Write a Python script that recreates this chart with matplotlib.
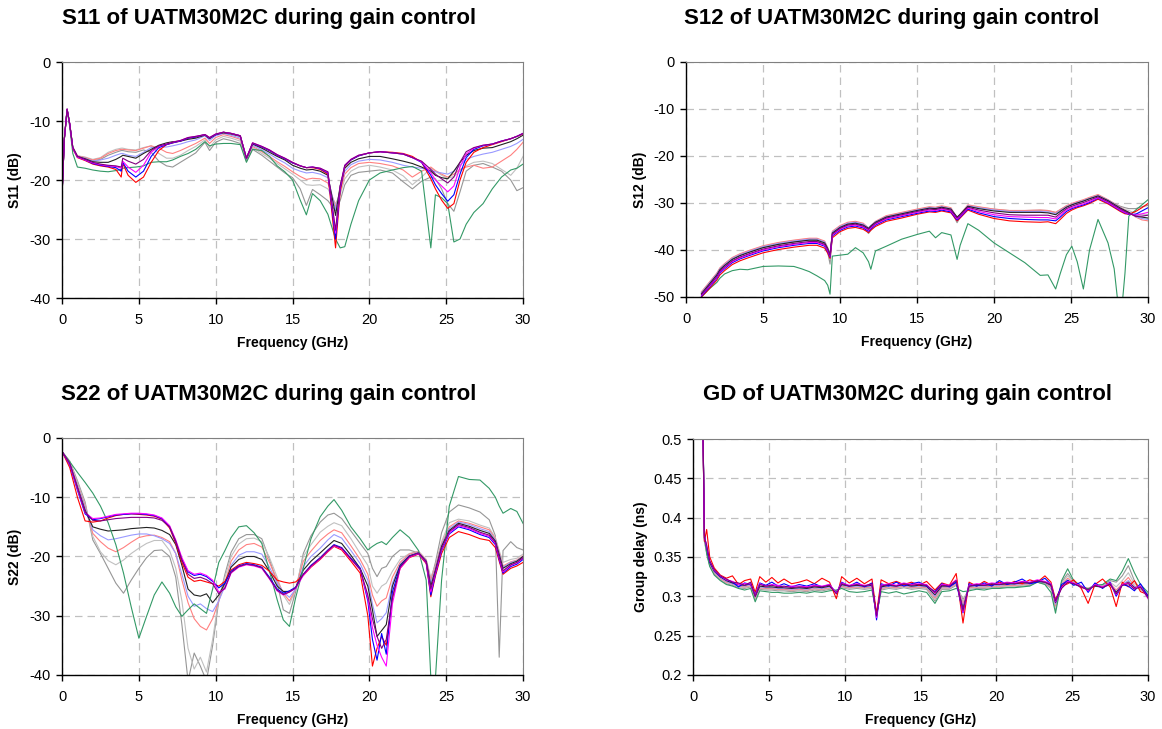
import matplotlib
matplotlib.use('Agg')
import matplotlib.pyplot as plt
from matplotlib.ticker import FuncFormatter

plt.rcParams['font.family'] = ['Liberation Sans', 'DejaVu Sans']
plt.rcParams['axes.unicode_minus'] = False

# ---------------- S11 ----------------
s11_freq = [0, 0.15, 0.33, 0.5, 0.7, 1.0, 1.5, 2.0, 2.5, 3.0,
            3.5, 3.85, 3.95, 4.3, 4.8, 5.3, 5.8, 6.3, 6.8, 7.2,
            7.7, 8.2, 8.7, 9.3, 9.6, 10.0, 10.5, 11.0, 11.6, 12.0,
            12.4, 13.0, 13.5, 14.0, 14.5, 15.0, 15.5, 15.9, 16.3, 16.8,
            17.3, 17.8, 18.1, 18.4, 18.8, 19.3, 20.0, 20.7, 21.5, 22.2,
            22.8, 23.4, 24.0, 24.3, 24.7, 25.1, 25.5, 25.9, 26.3, 26.8,
            27.4, 28.0, 28.6, 29.2, 29.6, 30.0]
s11_red = [-22.5, -13.0, -8.0, -10.5, -14.7, -16.2, -16.7, -17.3, -17.6, -17.8,
           -18.2, -19.5, -17.2, -19.2, -20.4, -19.5, -17.0, -15.0, -14.0, -13.7,
           -13.4, -12.9, -12.7, -12.3, -12.9, -12.3, -11.9, -12.1, -12.5, -16.3,
           -13.8, -14.4, -15.0, -15.8, -16.4, -17.1, -17.6, -17.9, -17.9, -18.2,
           -19.0, -31.5, -22.0, -17.7, -16.6, -15.9, -15.4, -15.2, -15.3, -15.5,
           -16.0, -17.0, -19.8, -21.5, -23.4, -24.8, -24.0, -20.0, -17.0, -15.3,
           -14.5, -14.0, -13.5, -13.0, -12.6, -12.2]
s11_blue = [-22.5, -13.0, -8.0, -10.5, -14.6, -16.1, -16.6, -17.2, -17.5, -17.7,
            -17.9, -18.5, -17.0, -18.5, -19.5, -18.5, -16.0, -14.5, -14.0, -13.7,
            -13.4, -12.9, -12.7, -12.3, -12.9, -12.3, -11.9, -12.1, -12.5, -16.3,
            -13.8, -14.4, -15.0, -15.8, -16.4, -17.1, -17.6, -17.9, -17.8, -18.1,
            -18.8, -30.0, -21.5, -17.6, -16.6, -15.9, -15.4, -15.2, -15.4, -15.6,
            -16.2, -17.0, -19.2, -20.8, -22.3, -23.6, -22.5, -19.0, -16.2, -14.8,
            -14.2, -13.9, -13.4, -13.0, -12.6, -12.1]
s11_magenta = [-22.5, -13.0, -8.0, -10.5, -14.6, -16.1, -16.6, -17.1, -17.4, -17.6,
               -17.7, -18.0, -16.8, -17.8, -18.7, -17.5, -15.3, -14.3, -13.9, -13.6,
               -13.3, -12.8, -12.6, -12.3, -12.8, -12.2, -11.9, -12.1, -12.5, -16.3,
               -13.7, -14.3, -14.9, -15.7, -16.3, -17.0, -17.6, -17.9, -17.8, -18.0,
               -18.7, -29.0, -21.2, -17.5, -16.5, -15.8, -15.4, -15.2, -15.4, -15.6,
               -16.2, -16.9, -18.8, -20.0, -21.0, -22.0, -21.0, -17.8, -15.6, -14.6,
               -14.1, -13.9, -13.4, -13.0, -12.6, -12.1]
s11_purple = [-22.5, -13.0, -8.0, -10.5, -14.5, -16.0, -16.5, -17.0, -17.3, -17.5,
              -17.6, -17.8, -16.3, -16.8, -17.3, -16.5, -15.0, -14.2, -13.9, -13.6,
              -13.3, -12.8, -12.6, -12.3, -12.8, -12.2, -11.9, -12.1, -12.5, -16.3,
              -13.7, -14.3, -14.9, -15.7, -16.3, -17.0, -17.6, -17.9, -17.8, -18.0,
              -18.6, -28.5, -21.0, -17.5, -16.5, -15.8, -15.4, -15.2, -15.4, -15.6,
              -16.2, -16.8, -18.2, -19.0, -19.8, -20.5, -19.5, -17.0, -15.2, -14.5,
              -14.1, -13.9, -13.4, -13.0, -12.6, -12.1]
s11_black = [-22.5, -13.0, -8.0, -10.5, -14.5, -16.0, -16.4, -16.9, -17.0, -17.0,
             -16.5, -16.0, -15.8, -16.0, -16.3, -15.5, -14.8, -14.1, -13.7, -13.5,
             -13.4, -13.1, -12.9, -12.4, -13.0, -12.3, -12.0, -12.2, -12.6, -16.4,
             -13.9, -14.6, -15.3, -16.0, -16.6, -17.5, -18.0, -18.3, -18.2, -18.5,
             -19.2, -26.0, -21.0, -18.0, -17.0, -16.4, -16.0, -16.0, -16.4, -16.8,
             -17.2, -17.8, -18.5, -19.2, -19.6, -19.8, -18.5, -17.0, -15.8, -15.0,
             -14.6, -14.5, -14.0, -13.5, -13.0, -12.4]
s11_lightblue = [-22.5, -13.0, -8.0, -10.5, -14.5, -16.0, -16.3, -16.8, -16.6, -16.3,
                 -15.8, -15.5, -15.5, -15.8, -16.0, -15.3, -14.5, -14.4, -14.4, -14.2,
                 -13.9, -13.5, -13.2, -12.5, -13.3, -12.5, -12.1, -12.4, -12.9, -16.5,
                 -14.1, -14.9, -15.6, -16.4, -17.1, -18.0, -18.5, -18.8, -18.7, -19.0,
                 -19.6, -25.0, -21.5, -18.5, -17.4, -16.8, -16.5, -16.6, -17.0, -17.5,
                 -17.8, -18.0, -18.4, -18.6, -18.8, -19.0, -18.5, -17.5, -16.5, -16.0,
                 -15.6, -15.3, -14.8, -14.3, -13.8, -13.1]
s11_salmon = [-22.5, -13.0, -8.0, -10.5, -14.4, -15.9, -16.2, -16.6, -16.3, -15.5,
              -15.0, -14.8, -14.8, -14.9, -15.0, -14.6, -14.2, -14.6, -15.3, -15.5,
              -15.0, -14.4, -13.8, -12.9, -13.8, -12.8, -12.3, -12.6, -13.1, -16.6,
              -14.3, -15.2, -16.0, -16.9, -17.7, -18.6, -19.4, -19.9, -19.7, -19.8,
              -20.5, -24.5, -22.0, -19.0, -17.9, -17.2, -17.0, -17.2, -17.6, -18.3,
              -19.5, -18.5, -17.8, -18.4, -19.0, -19.5, -19.0, -18.2, -17.8, -17.5,
              -18.0, -17.8, -16.8, -15.8, -14.8, -13.6]
s11_lightgray = [-22.5, -13.0, -8.0, -10.6, -14.4, -15.9, -16.1, -16.5, -16.2, -15.3,
                 -14.8, -14.6, -14.6, -14.8, -14.9, -14.5, -14.2, -15.5, -16.3, -16.3,
                 -15.8, -15.0, -14.3, -13.2, -14.5, -13.2, -12.6, -12.9, -13.4, -16.6,
                 -14.5, -15.5, -16.3, -17.2, -18.1, -19.0, -20.0, -20.8, -20.9, -20.8,
                 -21.5, -24.0, -22.5, -19.8, -18.5, -17.8, -17.5, -17.8, -18.3, -19.3,
                 -20.8, -19.5, -18.0, -18.5, -19.2, -19.7, -19.4, -18.5, -17.6, -17.0,
                 -16.8, -17.2, -18.2, -19.2, -18.0, -16.0]
s11_gray = [-22.5, -13.0, -8.1, -10.7, -14.6, -16.1, -16.3, -16.7, -16.5, -15.8,
            -15.3, -15.0, -15.0, -15.2, -15.3, -14.9, -15.3, -16.8, -17.6, -17.8,
            -17.0, -16.2, -15.4, -13.6, -15.0, -13.6, -13.0, -13.3, -13.8, -16.8,
            -14.8, -15.8, -16.8, -17.8, -18.8, -19.6, -21.5, -24.3, -21.6, -22.5,
            -23.5, -25.2, -23.5, -20.8, -19.2, -18.7, -18.5, -18.3, -18.8, -20.3,
            -21.5, -20.2, -19.5, -19.8, -21.5, -24.0, -25.3, -22.0, -18.5, -17.5,
            -17.2, -17.8, -18.5, -20.0, -21.8, -21.3]
s11_green = [-22.5, -13.0, -8.2, -11.0, -15.5, -17.8, -18.0, -18.3, -18.5, -18.6,
             -18.4, -18.2, -18.0, -17.9, -17.8, -17.6, -17.0, -16.9, -16.9, -16.6,
             -16.0, -15.5, -14.8, -13.5, -14.2, -13.9, -13.8, -13.8, -14.0, -17.0,
             -14.8, -15.0, -16.0, -17.6, -18.6, -20.0, -23.4, -25.9, -22.3, -23.5,
             -25.8, -30.0, -31.5, -31.3, -27.5, -23.5, -20.0, -18.8, -18.3, -17.9,
             -17.7, -18.5, -31.5, -22.5, -23.0, -24.0, -30.5, -30.0, -27.5, -25.5,
             -24.0, -21.5, -19.5, -18.3, -18.0, -17.3]

# ---------------- S12 ----------------
s12_freq = [1.0, 1.5, 2.0, 2.2, 2.5, 3.0, 3.5, 4.0, 5.0, 6.0,
            7.0, 7.5, 8.0, 8.5, 9.0, 9.2, 9.35, 9.5, 10.0, 10.5,
            11.0, 11.5, 11.85, 12.0, 12.3, 13.0, 14.0, 15.0, 15.8, 16.2,
            16.6, 17.2, 17.6, 17.8, 18.3, 19.0, 20.0, 21.0, 22.0, 23.0,
            23.5, 24.0, 24.3, 24.7, 25.05, 25.4, 25.8, 26.2, 26.75, 27.4,
            27.8, 28.2, 28.5, 28.75, 29.2, 29.6, 30.0]
s12_red = [-50.0, -48.3, -46.4, -45.3, -44.4, -43.1, -42.3, -41.7, -40.6, -39.9,
           -39.4, -39.2, -39.0, -39.0, -39.6, -40.7, -41.8, -37.4, -36.1, -35.4,
           -35.2, -35.6, -36.3, -35.8, -35.0, -33.9, -33.2, -32.4, -31.9, -32.0,
           -31.7, -32.1, -33.8, -33.2, -31.5, -32.4, -33.3, -33.8, -34.0, -34.1,
           -34.0, -34.4, -33.5, -32.2, -31.5, -31.0, -30.6, -30.1, -29.2, -30.2,
           -31.0, -31.8, -32.3, -32.4, -31.8, -31.0, -30.1]
s12_blue = [-49.8, -48.0, -46.0, -44.9, -44.0, -42.7, -41.9, -41.3, -40.2, -39.5,
            -39.0, -38.8, -38.6, -38.6, -39.2, -40.3, -41.5, -37.0, -35.8, -35.1,
            -34.9, -35.3, -36.0, -35.5, -34.7, -33.6, -32.9, -32.2, -31.7, -31.8,
            -31.5, -31.9, -33.6, -33.0, -31.3, -32.1, -32.9, -33.3, -33.5, -33.6,
            -33.6, -33.8, -33.0, -31.8, -31.2, -30.8, -30.4, -29.9, -29.0, -30.0,
            -30.8, -31.6, -32.1, -32.4, -32.4, -31.7, -31.0]
s12_magenta = [-49.6, -47.8, -45.8, -44.7, -43.8, -42.5, -41.7, -41.1, -40.0, -39.3,
               -38.8, -38.6, -38.4, -38.4, -39.0, -40.1, -41.3, -36.8, -35.6, -34.9,
               -34.7, -35.1, -35.8, -35.3, -34.5, -33.4, -32.7, -32.0, -31.5, -31.6,
               -31.3, -31.7, -33.4, -32.8, -31.1, -31.8, -32.5, -32.9, -33.0, -33.1,
               -33.1, -33.4, -32.6, -31.5, -31.0, -30.6, -30.2, -29.7, -28.9, -29.9,
               -30.7, -31.5, -32.0, -32.3, -32.6, -32.3, -32.0]
s12_purple = [-49.5, -47.6, -45.6, -44.5, -43.6, -42.3, -41.5, -40.9, -39.8, -39.1,
              -38.6, -38.4, -38.2, -38.2, -38.8, -39.9, -41.2, -36.6, -35.4, -34.7,
              -34.5, -34.9, -35.6, -35.1, -34.3, -33.2, -32.5, -31.8, -31.3, -31.4,
              -31.1, -31.5, -33.2, -32.6, -30.9, -31.5, -32.1, -32.5, -32.6, -32.6,
              -32.6, -33.0, -32.2, -31.2, -30.7, -30.3, -29.9, -29.4, -28.7, -29.7,
              -30.5, -31.3, -31.8, -32.2, -32.8, -32.8, -32.6]
s12_black = [-49.3, -47.3, -45.3, -44.2, -43.3, -42.0, -41.2, -40.6, -39.5, -38.8,
             -38.3, -38.1, -37.9, -37.9, -38.5, -39.7, -41.0, -36.4, -35.2, -34.5,
             -34.3, -34.7, -35.4, -34.9, -34.1, -33.0, -32.3, -31.6, -31.1, -31.2,
             -30.9, -31.3, -33.0, -32.4, -30.7, -31.2, -31.7, -32.0, -32.0, -32.0,
             -32.1, -32.5, -31.8, -30.9, -30.4, -30.0, -29.6, -29.1, -28.5, -29.5,
             -30.3, -31.1, -31.6, -32.0, -32.8, -33.0, -33.2]
s12_lightblue = [-49.1, -47.1, -45.1, -44.0, -43.1, -41.8, -41.0, -40.4, -39.3, -38.6,
                 -38.1, -37.9, -37.7, -37.7, -38.3, -39.6, -41.2, -36.2, -35.0, -34.3,
                 -34.1, -34.5, -35.3, -34.8, -34.0, -32.9, -32.2, -31.5, -31.0, -31.1,
                 -30.8, -31.2, -33.1, -32.4, -30.6, -31.0, -31.5, -31.8, -31.8, -31.8,
                 -31.9, -32.3, -31.6, -30.8, -30.3, -29.9, -29.5, -29.0, -28.4, -29.4,
                 -30.2, -31.0, -31.6, -32.0, -32.9, -33.3, -33.5]
s12_salmon = [-48.9, -46.9, -44.9, -43.8, -42.9, -41.6, -40.8, -40.2, -39.1, -38.4,
              -37.9, -37.7, -37.5, -37.5, -38.1, -39.5, -41.5, -36.0, -34.8, -34.1,
              -33.9, -34.3, -35.3, -34.8, -33.9, -32.7, -32.0, -31.3, -30.8, -30.9,
              -30.6, -31.0, -33.2, -32.4, -30.4, -30.8, -31.3, -31.6, -31.6, -31.5,
              -31.6, -32.0, -31.4, -30.6, -30.1, -29.7, -29.3, -28.8, -28.2, -29.3,
              -30.1, -30.9, -31.5, -32.0, -33.0, -33.6, -33.8]
s12_lightgray = [-49.0, -47.0, -45.0, -43.9, -43.0, -41.7, -40.9, -40.3, -39.2, -38.5,
                 -38.0, -37.8, -37.6, -37.6, -38.3, -39.8, -42.0, -36.3, -35.0, -34.3,
                 -34.1, -34.6, -35.8, -35.2, -34.1, -32.8, -32.1, -31.4, -30.9, -31.0,
                 -30.7, -31.2, -33.6, -32.6, -30.5, -30.9, -31.3, -31.6, -31.6, -31.5,
                 -31.6, -32.0, -31.4, -30.6, -30.2, -29.8, -29.4, -28.9, -28.3, -29.4,
                 -30.2, -31.0, -31.4, -31.6, -32.2, -32.5, -32.5]
s12_gray = [-49.2, -47.2, -45.2, -44.1, -43.2, -41.9, -41.1, -40.5, -39.5, -38.8,
            -38.3, -38.1, -37.9, -38.0, -38.8, -40.5, -43.0, -36.8, -35.3, -34.6,
            -34.4, -35.0, -36.5, -35.8, -34.4, -33.1, -32.3, -31.6, -31.1, -31.3,
            -31.0, -31.6, -34.2, -33.0, -30.8, -31.0, -31.4, -31.7, -31.7, -31.6,
            -31.7, -32.1, -31.5, -30.7, -30.3, -29.9, -29.5, -29.0, -28.4, -29.4,
            -30.1, -30.7, -31.0, -31.2, -31.2, -30.8, -30.5]
s12_green = [-50.0, -48.3, -46.9, -46.0, -45.1, -44.4, -44.1, -44.2, -43.5, -43.4,
             -43.5, -44.0, -44.6, -45.5, -46.5, -47.5, -49.4, -41.3, -41.1, -40.9,
             -39.5, -40.6, -42.5, -44.1, -40.2, -39.2, -37.7, -36.7, -36.0, -37.4,
             -36.3, -36.8, -42.0, -39.0, -34.4, -35.8, -38.5, -40.6, -42.7, -45.4,
             -45.3, -48.3, -45.0, -41.0, -39.2, -42.5, -48.3, -40.0, -33.5, -38.5,
             -44.0, -56.0, -45.0, -32.8, -31.5, -30.4, -29.3]

# ---------------- S22 ----------------
s22_freq = [0, 0.5, 1.0, 1.5, 2.0, 2.5, 3.0, 3.5, 4.0, 4.5,
            5.0, 5.5, 6.0, 6.5, 7.0, 7.4, 7.8, 8.2, 8.6, 9.0,
            9.4, 9.8, 10.2, 10.6, 11.0, 11.5, 12.0, 12.5, 13.0, 13.5,
            14.0, 14.4, 14.8, 15.2, 15.7, 16.2, 16.8, 17.3, 17.7, 18.2,
            18.8, 19.4, 19.9, 20.2, 20.5, 20.8, 21.1, 21.5, 22.0, 22.6,
            23.2, 23.7, 24.0, 24.3, 24.7, 25.2, 25.8, 26.5, 27.2, 27.8,
            28.2, 28.45, 28.7, 29.2, 29.6, 30.0]
s22_red = [-2.3, -5.0, -10.0, -14.0, -14.2, -14.0, -13.5, -13.1, -12.9, -12.8,
           -12.9, -13.0, -13.2, -13.7, -15.2, -17.8, -21.0, -23.5, -24.2, -24.0,
           -24.3, -24.6, -25.0, -24.2, -22.3, -21.4, -21.0, -21.2, -21.5, -22.5,
           -24.0, -24.3, -24.5, -24.3, -23.2, -21.8, -20.5, -19.2, -18.3, -18.9,
           -20.8, -22.8, -30.0, -38.5, -35.5, -33.5, -35.0, -27.0, -22.0, -20.2,
           -19.6, -21.2, -26.8, -23.3, -19.5, -16.8, -15.8, -16.3, -17.0, -17.3,
           -18.5, -20.8, -23.0, -22.0, -21.6, -21.0]
s22_blue = [-2.3, -4.5, -8.8, -12.8, -13.8, -13.6, -13.3, -13.0, -12.9, -12.8,
            -12.8, -12.9, -13.1, -13.6, -15.0, -17.5, -20.5, -22.6, -23.2, -23.0,
            -23.4, -24.2, -25.3, -24.5, -22.5, -21.6, -21.2, -21.4, -21.8, -23.5,
            -25.5, -26.2, -25.8, -25.2, -23.0, -21.5, -20.2, -18.9, -18.0, -18.5,
            -20.3, -22.0, -27.5, -34.0, -37.5, -33.0, -36.5, -26.0, -21.7, -20.0,
            -19.5, -21.0, -26.5, -23.0, -19.0, -16.2, -15.0, -15.5, -16.3, -16.8,
            -18.0, -20.5, -22.8, -21.7, -21.3, -20.5]
s22_magenta = [-2.3, -4.4, -8.6, -12.6, -13.6, -13.5, -13.2, -12.9, -12.8, -12.7,
               -12.7, -12.8, -13.0, -13.5, -14.8, -17.2, -20.2, -22.4, -23.0, -22.8,
               -23.2, -24.0, -26.0, -25.5, -22.8, -21.8, -21.4, -21.6, -22.0, -23.8,
               -25.8, -26.5, -26.0, -25.4, -23.2, -21.7, -20.4, -19.1, -18.2, -18.7,
               -20.5, -22.2, -27.0, -32.0, -35.0, -37.0, -38.5, -28.0, -22.0, -20.1,
               -19.5, -21.0, -26.0, -22.8, -18.8, -16.0, -14.8, -15.3, -16.1, -16.6,
               -17.8, -20.3, -22.6, -21.5, -21.1, -20.3]
s22_purple = [-2.3, -4.3, -8.4, -12.5, -13.9, -14.0, -13.8, -13.6, -13.5, -13.4,
              -13.4, -13.4, -13.5, -13.9, -15.0, -17.4, -20.6, -23.0, -23.7, -23.5,
              -23.9, -24.6, -26.3, -25.3, -22.7, -21.7, -21.3, -21.5, -21.9, -23.7,
              -25.7, -26.4, -26.0, -25.3, -23.0, -21.6, -20.3, -19.0, -18.1, -18.6,
              -20.4, -22.2, -26.5, -30.5, -33.5, -35.5, -34.0, -27.0, -21.8, -20.0,
              -19.4, -20.9, -25.5, -22.5, -18.6, -15.8, -14.6, -15.1, -15.9, -16.4,
              -17.6, -20.1, -22.4, -21.4, -21.0, -20.2]
s22_black = [-2.3, -4.3, -8.3, -12.2, -15.0, -15.4, -15.7, -15.6, -15.5, -15.3,
             -15.2, -15.1, -15.2, -15.6, -16.3, -18.0, -21.5, -25.5, -26.5, -26.7,
             -26.3, -27.8, -26.5, -24.5, -21.8, -20.5, -20.0, -20.0, -20.5, -22.5,
             -25.0, -25.9, -25.9, -25.3, -22.3, -20.8, -19.4, -18.2, -17.3, -17.8,
             -19.8, -22.0, -25.0, -29.0, -33.5, -32.5, -31.5, -25.0, -21.5, -19.9,
             -19.4, -20.8, -25.0, -22.3, -18.3, -15.6, -14.4, -14.9, -15.6, -16.1,
             -17.4, -19.7, -22.0, -21.2, -20.8, -20.0]
s22_lightblue = [-2.3, -4.2, -8.0, -11.8, -15.5, -16.5, -17.2, -17.0, -16.7, -16.4,
                 -16.2, -16.2, -16.5, -17.0, -17.8, -19.5, -23.0, -26.7, -28.4, -28.0,
                 -28.8, -29.3, -27.5, -25.0, -21.5, -19.8, -19.2, -19.2, -19.6, -21.8,
                 -24.5, -26.0, -26.9, -25.5, -21.7, -20.0, -18.6, -17.2, -16.3, -16.9,
                 -19.0, -21.2, -24.0, -28.0, -31.2, -30.5, -29.5, -24.5, -21.3, -19.8,
                 -19.3, -20.7, -24.5, -22.0, -18.1, -15.3, -14.2, -14.6, -15.3, -15.8,
                 -17.2, -19.5, -21.8, -21.0, -20.7, -20.0]
s22_salmon = [-2.3, -4.1, -7.8, -11.5, -16.1, -17.5, -18.6, -19.2, -18.5, -17.6,
              -16.8, -16.5, -16.4, -16.8, -17.5, -19.5, -24.0, -27.8, -30.5, -31.8,
              -32.4, -30.5, -27.5, -24.5, -20.8, -18.9, -18.0, -17.8, -18.4, -21.0,
              -24.0, -26.2, -27.5, -25.5, -20.8, -19.1, -17.3, -16.2, -15.5, -16.0,
              -18.2, -20.5, -23.0, -26.5, -28.4, -27.5, -27.0, -23.5, -21.0, -19.6,
              -19.2, -20.6, -24.0, -21.7, -17.9, -15.0, -14.0, -14.4, -15.0, -15.5,
              -17.0, -19.3, -21.6, -20.9, -20.6, -19.9]
s22_lightgray = [-2.3, -4.0, -7.5, -11.2, -16.6, -19.2, -20.7, -21.4, -20.6, -19.5,
                 -18.6, -17.8, -17.3, -17.3, -19.0, -22.0, -27.5, -35.5, -39.0, -37.0,
                 -39.5, -34.0, -27.0, -23.5, -20.0, -17.9, -17.0, -16.9, -17.5, -20.2,
                 -23.5, -26.5, -28.1, -25.5, -20.0, -18.0, -15.9, -14.9, -14.3, -14.8,
                 -17.0, -19.5, -21.5, -25.0, -26.2, -25.0, -24.5, -22.5, -20.5, -19.5,
                 -19.1, -20.5, -23.5, -21.5, -17.5, -14.3, -13.7, -14.0, -14.7, -15.2,
                 -16.8, -19.0, -21.0, -20.5, -20.3, -19.6]
s22_gray = [-2.3, -3.9, -7.2, -10.8, -17.2, -19.5, -22.0, -24.5, -26.2, -24.0,
            -22.0, -20.2, -19.0, -18.9, -20.0, -23.5, -31.5, -41.0, -36.3, -38.5,
            -41.0, -35.0, -27.5, -23.0, -19.3, -17.0, -16.3, -16.3, -17.0, -20.5,
            -24.5, -29.0, -29.6, -26.0, -19.5, -16.5, -14.2, -13.0, -12.7, -13.6,
            -15.7, -17.8, -19.5, -22.0, -23.4, -22.0, -21.7, -20.0, -18.9, -18.9,
            -19.4, -21.0, -24.0, -21.0, -16.0, -12.5, -11.3, -11.8, -12.5, -13.8,
            -16.5, -37.0, -19.0, -17.5, -18.5, -18.9]
s22_green = [-2.3, -4.0, -5.8, -7.5, -9.3, -11.5, -14.3, -18.0, -22.8, -28.5,
             -33.8, -30.1, -26.5, -24.3, -26.2, -28.5, -30.1, -29.0, -28.0, -28.8,
             -29.6, -25.5, -21.0, -19.0, -16.8, -15.0, -14.8, -16.0, -17.8, -22.5,
             -27.3, -30.7, -31.8, -27.0, -22.0, -17.0, -13.3, -11.5, -10.4, -12.2,
             -15.0, -17.0, -18.9, -18.3, -17.8, -17.5, -18.0, -16.8, -15.5, -16.8,
             -19.0, -24.0, -40.5, -40.5, -24.0, -11.5, -6.5, -7.0, -7.1, -8.5,
             -10.0, -11.5, -12.7, -11.9, -12.4, -14.4]

# ---------------- Group delay ----------------
gd_freq = [0.6, 0.75, 0.9, 1.1, 1.4, 1.8, 2.2, 2.6, 3.0, 3.4,
           3.8, 4.1, 4.4, 4.8, 5.2, 5.6, 6.0, 6.5, 7.0, 7.5,
           8.0, 8.5, 9.0, 9.45, 9.8, 10.3, 10.8, 11.3, 11.8, 12.1,
           12.4, 12.9, 13.4, 13.9, 14.4, 14.9, 15.4, 15.95, 16.4, 16.9,
           17.35, 17.8, 18.2, 18.7, 19.2, 19.7, 20.2, 20.7, 21.2, 21.7,
           22.2, 22.7, 23.2, 23.6, 23.9, 24.3, 24.7, 25.1, 25.6, 26.05,
           26.5, 27.0, 27.5, 27.9, 28.3, 28.7, 29.1, 29.5, 30.0]
gd_red = [0.60, 0.370, 0.385, 0.350, 0.336, 0.327, 0.323, 0.326, 0.315, 0.320,
          0.322, 0.305, 0.325, 0.318, 0.324, 0.317, 0.322, 0.316, 0.318, 0.321,
          0.316, 0.323, 0.318, 0.297, 0.325, 0.317, 0.323, 0.316, 0.322, 0.278,
          0.321, 0.316, 0.319, 0.315, 0.318, 0.314, 0.319, 0.308, 0.317, 0.314,
          0.329, 0.266, 0.318, 0.313, 0.319, 0.314, 0.318, 0.315, 0.319, 0.316,
          0.321, 0.318, 0.326, 0.318, 0.296, 0.313, 0.316, 0.321, 0.310, 0.291,
          0.315, 0.322, 0.312, 0.287, 0.318, 0.312, 0.320, 0.306, 0.302]
gd_blue = [0.60, 0.378, 0.362, 0.344, 0.333, 0.325, 0.321, 0.318, 0.312, 0.317,
           0.315, 0.302, 0.317, 0.314, 0.318, 0.313, 0.316, 0.312, 0.315, 0.313,
           0.316, 0.312, 0.315, 0.304, 0.318, 0.313, 0.318, 0.312, 0.317, 0.270,
           0.316, 0.313, 0.318, 0.313, 0.316, 0.318, 0.313, 0.306, 0.316, 0.312,
           0.318, 0.279, 0.316, 0.313, 0.317, 0.313, 0.320, 0.315, 0.318, 0.322,
           0.316, 0.318, 0.323, 0.315, 0.293, 0.315, 0.320, 0.314, 0.318, 0.305,
           0.317, 0.310, 0.318, 0.300, 0.315, 0.313, 0.307, 0.316, 0.300]
gd_magenta = [0.60, 0.376, 0.364, 0.345, 0.333, 0.326, 0.321, 0.319, 0.315, 0.316,
              0.316, 0.301, 0.316, 0.313, 0.315, 0.314, 0.312, 0.313, 0.313, 0.312,
              0.314, 0.313, 0.315, 0.304, 0.317, 0.314, 0.316, 0.314, 0.315, 0.273,
              0.314, 0.316, 0.314, 0.317, 0.315, 0.316, 0.315, 0.304, 0.315, 0.314,
              0.321, 0.280, 0.314, 0.316, 0.315, 0.317, 0.316, 0.318, 0.317, 0.319,
              0.318, 0.321, 0.319, 0.316, 0.293, 0.311, 0.319, 0.317, 0.313, 0.307,
              0.315, 0.312, 0.317, 0.302, 0.315, 0.317, 0.310, 0.313, 0.297]
gd_purple = [0.60, 0.375, 0.365, 0.345, 0.334, 0.326, 0.322, 0.318, 0.317, 0.314,
             0.318, 0.300, 0.315, 0.313, 0.314, 0.312, 0.313, 0.311, 0.312, 0.311,
             0.313, 0.312, 0.314, 0.303, 0.316, 0.313, 0.315, 0.313, 0.316, 0.275,
             0.313, 0.315, 0.313, 0.316, 0.314, 0.315, 0.314, 0.305, 0.314, 0.313,
             0.320, 0.282, 0.313, 0.315, 0.314, 0.316, 0.315, 0.317, 0.316, 0.318,
             0.317, 0.320, 0.318, 0.315, 0.294, 0.310, 0.318, 0.316, 0.312, 0.308,
             0.314, 0.311, 0.316, 0.303, 0.314, 0.316, 0.309, 0.312, 0.298]
gd_black = [0.60, 0.374, 0.360, 0.343, 0.332, 0.325, 0.320, 0.317, 0.315, 0.314,
            0.316, 0.300, 0.313, 0.312, 0.312, 0.311, 0.311, 0.310, 0.311, 0.310,
            0.312, 0.311, 0.313, 0.305, 0.315, 0.313, 0.314, 0.313, 0.314, 0.276,
            0.312, 0.314, 0.313, 0.315, 0.313, 0.314, 0.313, 0.302, 0.313, 0.313,
            0.318, 0.284, 0.313, 0.314, 0.314, 0.315, 0.315, 0.316, 0.316, 0.317,
            0.317, 0.319, 0.318, 0.314, 0.292, 0.312, 0.320, 0.316, 0.312, 0.309,
            0.313, 0.312, 0.315, 0.305, 0.314, 0.318, 0.311, 0.312, 0.300]
gd_lightblue = [0.60, 0.373, 0.358, 0.342, 0.331, 0.324, 0.319, 0.316, 0.314, 0.313,
                0.315, 0.299, 0.312, 0.311, 0.311, 0.310, 0.310, 0.309, 0.310, 0.309,
                0.311, 0.310, 0.312, 0.305, 0.314, 0.312, 0.313, 0.312, 0.313, 0.277,
                0.311, 0.313, 0.312, 0.314, 0.312, 0.313, 0.312, 0.300, 0.312, 0.312,
                0.317, 0.287, 0.312, 0.313, 0.313, 0.314, 0.314, 0.315, 0.315, 0.316,
                0.316, 0.318, 0.317, 0.313, 0.290, 0.313, 0.321, 0.316, 0.311, 0.309,
                0.313, 0.311, 0.315, 0.306, 0.315, 0.320, 0.312, 0.311, 0.300]
gd_salmon = [0.60, 0.372, 0.357, 0.341, 0.330, 0.323, 0.318, 0.316, 0.313, 0.312,
             0.314, 0.298, 0.311, 0.310, 0.310, 0.309, 0.309, 0.308, 0.309, 0.308,
             0.310, 0.309, 0.311, 0.306, 0.313, 0.311, 0.312, 0.311, 0.312, 0.277,
             0.310, 0.312, 0.311, 0.313, 0.311, 0.312, 0.311, 0.298, 0.311, 0.311,
             0.316, 0.290, 0.311, 0.312, 0.312, 0.313, 0.313, 0.314, 0.314, 0.315,
             0.316, 0.318, 0.316, 0.312, 0.288, 0.314, 0.323, 0.317, 0.311, 0.310,
             0.313, 0.312, 0.316, 0.308, 0.316, 0.324, 0.313, 0.310, 0.301]
gd_lightgray = [0.60, 0.371, 0.356, 0.340, 0.329, 0.322, 0.317, 0.315, 0.312, 0.311,
                0.313, 0.297, 0.310, 0.309, 0.309, 0.308, 0.308, 0.307, 0.308, 0.307,
                0.309, 0.308, 0.310, 0.306, 0.312, 0.310, 0.311, 0.310, 0.311, 0.277,
                0.309, 0.311, 0.310, 0.312, 0.310, 0.311, 0.310, 0.296, 0.310, 0.310,
                0.315, 0.293, 0.310, 0.311, 0.311, 0.312, 0.312, 0.313, 0.313, 0.314,
                0.315, 0.318, 0.316, 0.311, 0.285, 0.316, 0.326, 0.318, 0.312, 0.310,
                0.314, 0.313, 0.318, 0.312, 0.320, 0.330, 0.316, 0.310, 0.302]
gd_gray = [0.60, 0.370, 0.355, 0.339, 0.328, 0.321, 0.316, 0.314, 0.311, 0.310,
           0.312, 0.296, 0.309, 0.308, 0.308, 0.307, 0.307, 0.306, 0.307, 0.306,
           0.308, 0.307, 0.309, 0.307, 0.311, 0.309, 0.310, 0.309, 0.310, 0.277,
           0.308, 0.310, 0.309, 0.311, 0.309, 0.310, 0.309, 0.294, 0.309, 0.309,
           0.314, 0.296, 0.309, 0.310, 0.310, 0.311, 0.311, 0.312, 0.312, 0.313,
           0.314, 0.318, 0.316, 0.310, 0.283, 0.318, 0.329, 0.319, 0.312, 0.310,
           0.314, 0.314, 0.320, 0.318, 0.326, 0.339, 0.320, 0.309, 0.303]
gd_green = [0.60, 0.380, 0.354, 0.338, 0.327, 0.320, 0.315, 0.313, 0.310, 0.308,
            0.310, 0.293, 0.307, 0.306, 0.305, 0.305, 0.304, 0.304, 0.305, 0.304,
            0.306, 0.305, 0.307, 0.308, 0.310, 0.306, 0.305, 0.306, 0.308, 0.2765,
            0.306, 0.304, 0.306, 0.303, 0.305, 0.307, 0.305, 0.291, 0.306, 0.307,
            0.310, 0.306, 0.307, 0.309, 0.308, 0.310, 0.310, 0.311, 0.311, 0.312,
            0.313, 0.318, 0.315, 0.305, 0.2786, 0.320, 0.335, 0.320, 0.313, 0.309,
            0.314, 0.315, 0.322, 0.320, 0.332, 0.348, 0.330, 0.315, 0.305]

# colores de cada estado, en el orden de dibujo
colores = ['#969696', '#C0C0C0', '#FF8080', '#9999FF', '#222222',
           '#339966', '#FF0000', '#0000FF', '#FF00FF', '#800080']


def formato(ax, ylim, yticks, ylabel, label_x):
    ax.set_xlim(0, 30)
    ax.set_ylim(*ylim)
    ax.set_xticks([0, 5, 10, 15, 20, 25, 30])
    ax.set_yticks(yticks)
    ax.grid(True, color='#C0C0C0', linestyle=(0, (6, 4)), linewidth=0.9)
    ax.set_axisbelow(True)
    for lado in ['top', 'right']:
        ax.spines[lado].set_color('#808080')
        ax.spines[lado].set_linewidth(0.8)
    for lado in ['left', 'bottom']:
        ax.spines[lado].set_color('black')
        ax.spines[lado].set_linewidth(1.0)
    ax.tick_params(direction='out', length=4, width=1, labelsize=10.5, pad=4)
    ax.tick_params(axis='x', pad=7)
    ax.set_xlabel('Frequency (GHz)', fontsize=10, fontweight='bold')
    ax.xaxis.set_label_coords(0.5, -0.19)
    ax.xaxis.label.set_verticalalignment('center')
    ax.set_ylabel(ylabel, fontsize=10, fontweight='bold')
    ax.yaxis.set_label_coords(label_x, 0.5)
    ax.yaxis.label.set_verticalalignment('center')


fig = plt.figure(figsize=(11.62, 7.29), dpi=100)

ax1 = fig.add_axes([0.0534, 0.5912, 0.3967, 0.3237])
for datos, c in zip([s11_gray, s11_lightgray, s11_salmon, s11_lightblue, s11_black,
                     s11_green, s11_red, s11_blue, s11_magenta, s11_purple], colores):
    ax1.plot(s11_freq, datos, color=c, linewidth=0.8)
formato(ax1, (-40, 0), [-40, -30, -20, -10, 0], 'S11 (dB)', -0.102)

ax2 = fig.add_axes([0.5904, 0.5926, 0.3976, 0.3224])
for datos, c in zip([s12_gray, s12_lightgray, s12_salmon, s12_lightblue, s12_black,
                     s12_green, s12_red, s12_blue, s12_magenta, s12_purple], colores):
    ax2.plot(s12_freq, datos, color=c, linewidth=0.8)
formato(ax2, (-50, 0), [-50, -40, -30, -20, -10, 0], 'S12 (dB)', -0.10)

ax3 = fig.add_axes([0.0534, 0.0741, 0.3967, 0.3251])
for datos, c in zip([s22_gray, s22_lightgray, s22_salmon, s22_lightblue, s22_black,
                     s22_green, s22_red, s22_blue, s22_magenta, s22_purple], colores):
    ax3.plot(s22_freq, datos, color=c, linewidth=0.8)
formato(ax3, (-40, 0), [-40, -30, -20, -10, 0], 'S22 (dB)', -0.102)

ax4 = fig.add_axes([0.5964, 0.0741, 0.3916, 0.3237])
for datos, c in zip([gd_gray, gd_lightgray, gd_salmon, gd_lightblue, gd_black,
                     gd_green, gd_red, gd_blue, gd_magenta, gd_purple], colores):
    ax4.plot(gd_freq, datos, color=c, linewidth=0.8)
formato(ax4, (0.2, 0.5), [0.2, 0.25, 0.3, 0.35, 0.4, 0.45, 0.5], 'Group delay (ns)', -0.114)
ax4.yaxis.set_major_formatter(FuncFormatter(lambda v, p: '%g' % v))

fig.text(0.2315, 0.9753, 'S11 of UATM30M2C during gain control',
         ha='center', va='center', fontsize=16, fontweight='bold')
fig.text(0.7676, 0.9753, 'S12 of UATM30M2C during gain control',
         ha='center', va='center', fontsize=16, fontweight='bold')
fig.text(0.2315, 0.4582, 'S22 of UATM30M2C during gain control',
         ha='center', va='center', fontsize=16, fontweight='bold')
fig.text(0.7814, 0.4582, 'GD of UATM30M2C during gain control',
         ha='center', va='center', fontsize=16, fontweight='bold')

fig.savefig('out.png', dpi=100)
